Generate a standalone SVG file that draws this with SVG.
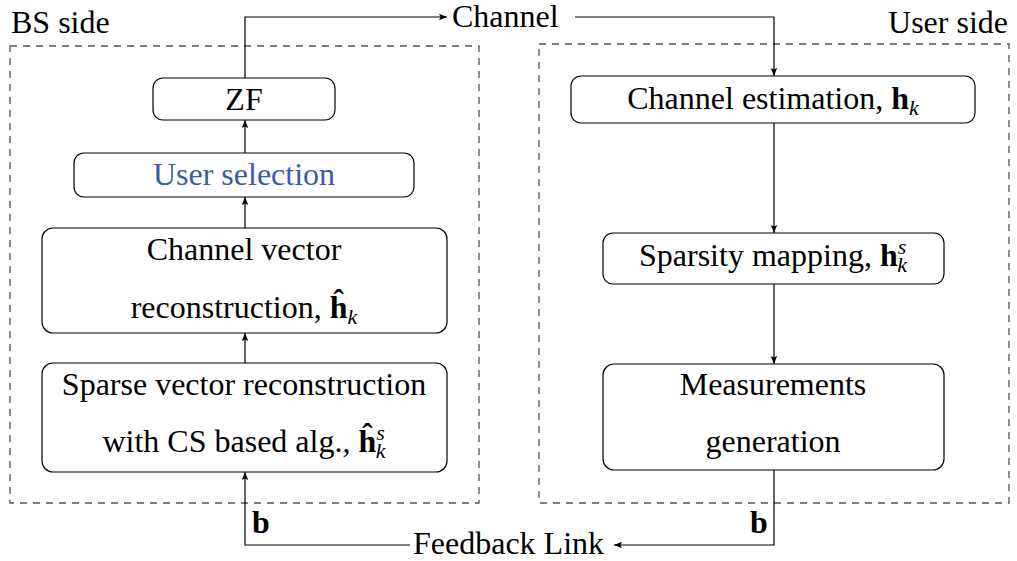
<svg xmlns="http://www.w3.org/2000/svg" width="1017" height="561" viewBox="0 0 1017 561">
<style>
.box{fill:#fff;stroke:#000;stroke-width:1.2}
.dash{fill:none;stroke:#555;stroke-width:1.3;stroke-dasharray:7,6}
.ln{fill:none;stroke:#000;stroke-width:1.2}
</style>
<defs>
<marker id="ah" viewBox="0 0 10 10" refX="10" refY="5" markerWidth="8" markerHeight="8" markerUnits="userSpaceOnUse" orient="auto">
<path d="M0,1 L10,5 L0,9 L2,5 Z" fill="#000"/>
</marker>
</defs>
<rect width="1017" height="561" fill="#fff"/>
<g id="regions">
<rect class="dash" x="10" y="46" width="469" height="457"/>
<rect class="dash" x="539" y="44" width="470" height="459"/>
<text x="11" y="33" font-family="Liberation Serif, serif" font-size="32">BS side</text>
<text x="1008" y="33" text-anchor="end" font-family="Liberation Serif, serif" font-size="32">User side</text>
</g>
<g id="connectors">
<polyline class="ln" points="245,78 245,17 447,17" marker-end="url(#ah)"/>
<polyline class="ln" points="575,17 774,17 774,76" marker-end="url(#ah)"/>
<line class="ln" x1="245" y1="153" x2="245" y2="120" marker-end="url(#ah)"/>
<line class="ln" x1="245" y1="228" x2="245" y2="197" marker-end="url(#ah)"/>
<line class="ln" x1="245" y1="363" x2="245" y2="333" marker-end="url(#ah)"/>
<polyline class="ln" points="410,545 245,545 245,472" marker-end="url(#ah)"/>
<line class="ln" x1="774" y1="123" x2="774" y2="233" marker-end="url(#ah)"/>
<line class="ln" x1="774" y1="284" x2="774" y2="364" marker-end="url(#ah)"/>
<polyline class="ln" points="774,470 774,545 614,545" marker-end="url(#ah)"/>
<text x="452" y="27" font-family="Liberation Serif, serif" font-size="32">Channel</text>
<text x="413" y="554" font-family="Liberation Serif, serif" font-size="32">Feedback Link</text>
<text x="252" y="533" font-family="Liberation Serif, serif" font-size="32" font-weight="bold">b</text>
<text x="750" y="533" font-family="Liberation Serif, serif" font-size="32" font-weight="bold">b</text>
</g>
<g id="zf">
<rect class="box" x="153" y="78" width="182" height="42" rx="10"/>
<text x="244" y="110" text-anchor="middle" font-family="Liberation Serif, serif" font-size="32">ZF</text>
</g>
<g id="user-selection">
<rect class="box" x="74" y="153" width="340" height="44" rx="10"/>
<text x="244" y="185" text-anchor="middle" fill="#3A5BAA" font-family="Liberation Serif, serif" font-size="32">User selection</text>
</g>
<g id="channel-vector">
<rect class="box" x="42" y="228" width="405" height="105" rx="11"/>
<text x="244" y="260" text-anchor="middle" font-family="Liberation Serif, serif" font-size="32">Channel vector</text>
<text x="244" y="318" text-anchor="middle" font-family="Liberation Serif, serif" font-size="32">reconstruction, <tspan font-weight="bold">&#293;</tspan><tspan font-style="italic" font-size="22" dy="6">k</tspan></text>
</g>
<g id="sparse-vector">
<rect class="box" x="42" y="363" width="405" height="109" rx="11"/>
<text x="244" y="395" text-anchor="middle" font-family="Liberation Serif, serif" font-size="32">Sparse vector reconstruction</text>
<text x="244" y="452" text-anchor="middle" font-family="Liberation Serif, serif" font-size="32">with CS based alg., <tspan font-weight="bold">&#293;</tspan><tspan font-style="italic" font-size="22" dy="-12">s</tspan><tspan font-style="italic" font-size="22" dx="-9" dy="18">k</tspan></text>
</g>
<g id="channel-estimation">
<rect class="box" x="571" y="76" width="404" height="47" rx="10"/>
<text x="773" y="109" text-anchor="middle" font-family="Liberation Serif, serif" font-size="32">Channel estimation, <tspan font-weight="bold">h</tspan><tspan font-style="italic" font-size="22" dy="6">k</tspan></text>
</g>
<g id="sparsity-mapping">
<rect class="box" x="603" y="233" width="341" height="51" rx="10"/>
<text x="773" y="266" text-anchor="middle" font-family="Liberation Serif, serif" font-size="32">Sparsity mapping, <tspan font-weight="bold">h</tspan><tspan font-style="italic" font-size="22" dy="-12">s</tspan><tspan font-style="italic" font-size="22" dx="-9" dy="18">k</tspan></text>
</g>
<g id="measurements">
<rect class="box" x="603" y="364" width="341" height="106" rx="11"/>
<text x="773" y="395" text-anchor="middle" font-family="Liberation Serif, serif" font-size="32">Measurements</text>
<text x="773" y="452" text-anchor="middle" font-family="Liberation Serif, serif" font-size="32">generation</text>
</g>
</svg>
